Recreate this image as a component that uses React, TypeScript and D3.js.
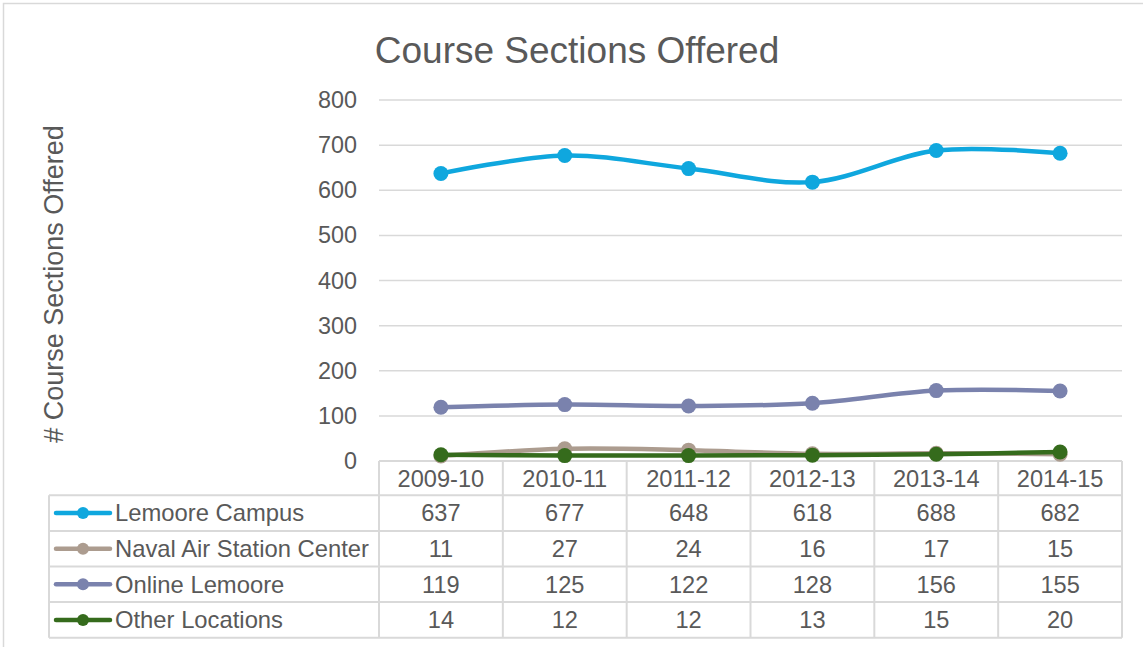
import React from "react";
import * as d3 from "d3";

const categories = ["2009-10", "2010-11", "2011-12", "2012-13", "2013-14", "2014-15"];
const seriesNames = ["Lemoore Campus", "Naval Air Station Center", "Online Lemoore", "Other Locations"];
const lemooreCampus = [637, 677, 648, 618, 688, 682];
const navalAirStation = [11, 27, 24, 16, 17, 15];
const onlineLemoore = [119, 125, 122, 128, 156, 155];
const otherLocations = [14, 12, 12, 13, 15, 20];
const yTicks = [0, 100, 200, 300, 400, 500, 600, 700, 800];
const seriesColors = ["#0FA7DE", "#AC9C8F", "#7A82AD", "#356B1C"];

const W = 1143;
const H = 647;
const plotLeft = 379;
const plotRight = 1122;
const plotTop = 100;
const plotBottom = 461;
const tableLeft = 49;
const rowH = 35.6;
const textColor = "#595959";
const gridColor = "#D9D9D9";
const font = "'Liberation Sans', Arial, sans-serif";

export default function App() {
  const values = [lemooreCampus, navalAirStation, onlineLemoore, otherLocations];
  const x = d3.scaleBand<string>().domain(categories).range([plotLeft, plotRight]);
  const y = d3.scaleLinear().domain([0, 800]).range([plotBottom, plotTop]);
  const line = d3
    .line<number>()
    .x((_, i) => (x(categories[i]) as number) + x.bandwidth() / 2)
    .y((d) => y(d))
    .curve(d3.curveCardinal.tension(0));

  const headerTop = plotBottom;
  const bodyTop = headerTop + 34.3;
  const tableBottom = bodyTop + rowH * seriesNames.length;

  return (
    <svg
      width={W}
      height={H}
      style={{ position: "absolute", left: 0, top: 0, background: "#fff" }}
      fontFamily={font}
    >
      <rect x={3.5} y={3.5} width={W + 10} height={H + 10} fill="#fff" stroke={gridColor} strokeWidth={1.5} />
      <text x={577} y={63} textAnchor="middle" fontSize={37} fill={textColor}>
        Course Sections Offered
      </text>
      <text
        transform={`translate(63,284) rotate(-90)`}
        textAnchor="middle"
        fontSize={27}
        fill={textColor}
      >
        # Course Sections Offered
      </text>
      {yTicks.map((t) => (
        <g key={t}>
          {t > 0 && (
            <line x1={plotLeft} x2={plotRight} y1={y(t)} y2={y(t)} stroke={gridColor} strokeWidth={1.5} />
          )}
          <text x={357} y={y(t) + 8} textAnchor="end" fontSize={23.4} fill={textColor}>
            {t}
          </text>
        </g>
      ))}
      {/* table */}
      <g stroke={gridColor} strokeWidth={2} fill="none">
        <line x1={plotLeft} x2={plotRight} y1={headerTop} y2={headerTop} />
        {[0, 1, 2, 3, 4].map((r) => (
          <line key={r} x1={tableLeft} x2={plotRight} y1={bodyTop + r * rowH} y2={bodyTop + r * rowH} />
        ))}
        <line x1={tableLeft} x2={tableLeft} y1={bodyTop} y2={tableBottom} />
        {categories.map((c) => (
          <line key={c} x1={x(c) as number} x2={x(c) as number} y1={headerTop} y2={tableBottom} />
        ))}
        <line x1={plotRight} x2={plotRight} y1={headerTop} y2={tableBottom} />
      </g>
      {categories.map((c) => (
        <text
          key={c}
          x={(x(c) as number) + x.bandwidth() / 2}
          y={headerTop + 26}
          textAnchor="middle"
          fontSize={23.6}
          fill={textColor}
        >
          {c}
        </text>
      ))}
      {seriesNames.map((name, si) => (
        <g key={name}>
          <line
            x1={56}
            x2={110}
            y1={bodyTop + si * rowH + rowH / 2}
            y2={bodyTop + si * rowH + rowH / 2}
            stroke={seriesColors[si]}
            strokeWidth={4.5}
            strokeLinecap="round"
          />
          <circle cx={83} cy={bodyTop + si * rowH + rowH / 2} r={6} fill={seriesColors[si]} />
          <text x={115} y={bodyTop + si * rowH + 26} fontSize={23.8} fill={textColor}>
            {name}
          </text>
          {values[si].map((v, i) => (
            <text
              key={i}
              x={(x(categories[i]) as number) + x.bandwidth() / 2}
              y={bodyTop + si * rowH + 26}
              textAnchor="middle"
              fontSize={23.6}
              fill={textColor}
            >
              {v}
            </text>
          ))}
        </g>
      ))}
      {/* series */}
      {values.map((vals, si) => (
        <g key={si}>
          <path d={line(vals) || ""} fill="none" stroke={seriesColors[si]} strokeWidth={4.5} strokeLinecap="round" />
          {vals.map((v, i) => (
            <circle
              key={i}
              cx={(x(categories[i]) as number) + x.bandwidth() / 2}
              cy={y(v)}
              r={7.5}
              fill={seriesColors[si]}
            />
          ))}
        </g>
      ))}
    </svg>
  );
}
